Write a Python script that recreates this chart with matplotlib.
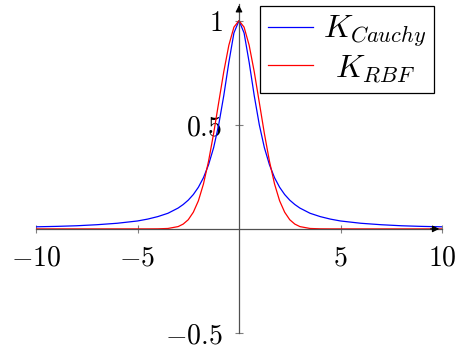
import matplotlib
matplotlib.use("Agg")
import matplotlib.pyplot as plt

plt.rcParams['mathtext.fontset'] = 'cm'
plt.rcParams['font.family'] = ['DejaVu Serif']

# values
x_vals = [-10, -9, -8, -7, -6, -5, -4.5, -4, -3.5, -3, -2.75, -2.5, -2.25, -2, -1.75, -1.5,
          -1.25, -1, -0.75, -0.5, -0.25, 0, 0.25, 0.5, 0.75, 1, 1.25, 1.5, 1.75, 2, 2.25,
          2.5, 2.75, 3, 3.5, 4, 4.5, 5, 6, 7, 8, 9, 10]
cauchy = [0.010, 0.012, 0.015, 0.020, 0.027, 0.038, 0.047, 0.059, 0.075, 0.100, 0.117, 0.138,
          0.165, 0.200, 0.246, 0.308, 0.390, 0.500, 0.640, 0.800, 0.941, 1.000, 0.941, 0.800,
          0.640, 0.500, 0.390, 0.308, 0.246, 0.200, 0.165, 0.138, 0.117, 0.100, 0.075, 0.059,
          0.047, 0.038, 0.027, 0.020, 0.015, 0.012, 0.010]
rbf = [0.0, 0.0, 0.0, 0.0, 0.0, 0.0, 0.0, 0.0003, 0.002, 0.011, 0.023, 0.044, 0.080, 0.135,
       0.216, 0.325, 0.458, 0.607, 0.755, 0.882, 0.969, 1.000, 0.969, 0.882, 0.755, 0.607,
       0.458, 0.325, 0.216, 0.135, 0.080, 0.044, 0.023, 0.011, 0.002, 0.0003, 0.0, 0.0, 0.0,
       0.0, 0.0, 0.0, 0.0]

x_ticks = [-10, -5, 5, 10]
x_ticklabels = [r'$-10$', r'$-5$', r'$5$', r'$10$']
y_ticks = [-0.5, 0.5, 1]
y_ticklabels = [r'$-0.5$', r'$0.5$', r'$1$']

fig = plt.figure(figsize=(4.55, 3.51), dpi=100)
ax = fig.add_axes([36 / 455, 18 / 351, 406 / 455, 329 / 351])

ax.plot(x_vals, cauchy, color='#0000ff', lw=0.9, label=r'$K_{Cauchy}$')
ax.plot(x_vals, rbf, color='#ff0000', lw=0.9, label=r'$\;\,K_{RBF}$')

ax.set_xlim(-10, 10)
ax.set_ylim(-0.5, 1.08)

for s in ['top', 'right']:
    ax.spines[s].set_visible(False)
ax.spines['left'].set_position(('data', 0))
ax.spines['bottom'].set_position(('data', 0))
for s in ['left', 'bottom']:
    ax.spines[s].set_color('#505050')
    ax.spines[s].set_linewidth(0.9)

ax.set_xticks(x_ticks)
ax.set_xticklabels(x_ticklabels)
ax.set_yticks(y_ticks)
ax.set_yticklabels(y_ticklabels)
ax.tick_params(axis='both', direction='inout', length=6, width=0.8, color='#808080',
               labelsize=20, labelcolor='black')
ax.tick_params(axis='x', pad=8)
ax.tick_params(axis='y', pad=9)

# axis arrows
ax.annotate('', xy=(10, 0), xytext=(9.3, 0),
            arrowprops=dict(arrowstyle='-|>', color='black', lw=0.8, mutation_scale=10),
            annotation_clip=False)
ax.annotate('', xy=(0, 1.088), xytext=(0, 1.03),
            arrowprops=dict(arrowstyle='-|>', color='black', lw=0.8, mutation_scale=10),
            annotation_clip=False)

leg = ax.legend(loc='upper right', bbox_to_anchor=(434 / 455, 1 - 6 / 351),
                bbox_transform=fig.transFigure, borderaxespad=0, fontsize=23,
                frameon=True, fancybox=False, framealpha=1, edgecolor='black',
                handlelength=1.4, handletextpad=0.3, labelspacing=0.1, borderpad=0.25)
leg.get_frame().set_linewidth(0.9)

fig.savefig('out.png', dpi=100)
